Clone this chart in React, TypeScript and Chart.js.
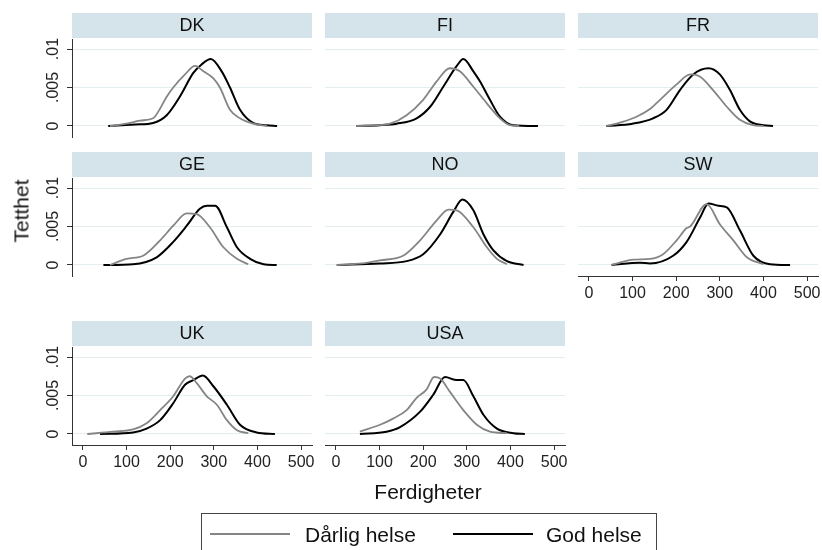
import React, { useEffect, useRef } from "react";
import { Chart, registerables } from "chart.js";

Chart.register(...registerables);

const FONT = '"Liberation Sans", Arial, Helvetica, sans-serif';

const countries = ["DK", "FI", "FR", "GE", "NO", "SW", "UK", "USA"];
const seriesNames = ["Dårlig helse", "God helse"];
const xTicks = [0, 100, 200, 300, 400, 500];
const yTicks = [0, 0.005, 0.01];
const yTickLabels = ["0", ".005", ".01"];
const xTitle = "Ferdigheter";
const yTitle = "Tetthet";

// [skill, density] pairs
const dkPoor = [[62, 0], [100, 0.0003], [131, 0.0007], [161, 0.001], [173, 0.0019], [192, 0.0038], [207, 0.005], [234, 0.0067], [257, 0.0078], [276, 0.0071], [299, 0.0062], [314, 0.005], [337, 0.0021], [360, 0.001], [390, 0.0003], [422, 0]];
const dkGood = [[58, 0], [120, 0.0002], [161, 0.0004], [192, 0.0014], [222, 0.0038], [253, 0.0069], [272, 0.008], [293, 0.0087], [318, 0.0071], [337, 0.005], [360, 0.0021], [390, 0.0004], [420, 0.0001], [445, 0]];
const fiPoor = [[47, 0], [90, 0.0001], [124, 0.0003], [162, 0.0014], [200, 0.0034], [231, 0.0058], [261, 0.0075], [284, 0.0071], [315, 0.0051], [345, 0.003], [376, 0.001], [399, 0.0001], [420, 0]];
const fiGood = [[47, 0], [100, 0.0001], [139, 0.0003], [185, 0.001], [216, 0.0025], [246, 0.0051], [277, 0.0078], [292, 0.0087], [315, 0.0071], [330, 0.0058], [353, 0.0034], [376, 0.0012], [406, 0.0001], [463, 0]];
const frPoor = [[40, 0], [75, 0.0005], [109, 0.0012], [140, 0.0022], [163, 0.0034], [201, 0.0054], [232, 0.0067], [255, 0.0064], [284, 0.0047], [316, 0.0025], [346, 0.0008], [376, 0.0001], [400, 0]];
const frGood = [[40, 0], [100, 0.0003], [147, 0.001], [178, 0.0021], [209, 0.0047], [239, 0.0067], [274, 0.0075], [300, 0.0067], [323, 0.0047], [346, 0.0021], [369, 0.0006], [400, 0.0001], [422, 0]];
const gePoor = [[62, 0], [100, 0.0008], [138, 0.0012], [177, 0.0032], [207, 0.0051], [238, 0.0067], [261, 0.0066], [291, 0.0049], [322, 0.0023], [353, 0.0008], [379, 0.0001]];
const geGood = [[47, 0], [115, 0.0001], [169, 0.001], [207, 0.003], [238, 0.0051], [268, 0.0073], [284, 0.0077], [303, 0.0077], [330, 0.0049], [353, 0.0023], [383, 0.0008], [414, 0.0001], [444, 0]];
const noPoor = [[2, 0], [60, 0.0002], [101, 0.0006], [154, 0.0012], [193, 0.0032], [231, 0.0058], [258, 0.0072], [277, 0.0071], [315, 0.0049], [346, 0.0023], [369, 0.0008], [392, 0.0001]];
const noGood = [[2, 0], [100, 0.0002], [162, 0.0005], [200, 0.0014], [239, 0.004], [269, 0.0069], [290, 0.0085], [315, 0.0071], [338, 0.004], [361, 0.0019], [392, 0.0005], [430, 0]];
const swPoor = [[52, 0], [102, 0.0007], [140, 0.0008], [170, 0.0014], [201, 0.0032], [224, 0.0048], [232, 0.005], [270, 0.0079], [300, 0.0053], [331, 0.0032], [362, 0.001], [400, 0.0001]];
const swGood = [[52, 0], [117, 0.0003], [140, 0.0002], [193, 0.0012], [224, 0.003], [255, 0.0062], [274, 0.008], [297, 0.0077], [316, 0.0075], [346, 0.0045], [377, 0.0012], [415, 0.0001], [461, 0]];
const ukPoor = [[10, 0], [70, 0.0003], [115, 0.0006], [146, 0.0014], [177, 0.0031], [207, 0.0049], [234, 0.0072], [245, 0.0075], [261, 0.0066], [284, 0.0049], [307, 0.0038], [330, 0.0018], [353, 0.0005], [379, 0.0001]];
const ukGood = [[39, 0], [115, 0.0002], [146, 0.0007], [177, 0.0018], [207, 0.004], [234, 0.0064], [253, 0.007], [275, 0.0076], [299, 0.0062], [330, 0.0038], [360, 0.0012], [398, 0.0002], [440, 0]];
const usaPoor = [[55, 0.0003], [101, 0.0012], [131, 0.002], [162, 0.0031], [185, 0.0047], [208, 0.0058], [225, 0.0074], [239, 0.0072], [261, 0.0055], [292, 0.0031], [323, 0.0012], [353, 0.0003], [392, 0.0001]];
const usaGood = [[55, 0], [116, 0.0003], [147, 0.0009], [193, 0.0029], [223, 0.0051], [250, 0.0074], [277, 0.007], [292, 0.007], [315, 0.0049], [338, 0.0025], [369, 0.0007], [407, 0.0001], [433, 0]];

const poorSeries = [dkPoor, fiPoor, frPoor, gePoor, noPoor, swPoor, ukPoor, usaPoor];
const goodSeries = [dkGood, fiGood, frGood, geGood, noGood, swGood, ukGood, usaGood];

// layout
const COL_LEFT = [72, 325, 578];
const ROW_TOP = [13, 152, 321];
const HEADER = 26;
const PLOT_W = 240;
const PLOT_H = 98;
const Y_AXIS_W = 72;
const X_AXIS_H = 35;
const RIGHT_PAD = 6;

function Panel({ idx }: { idx: number }) {
  const ref = useRef<HTMLCanvasElement>(null);
  const col = idx % 3;
  const row = Math.floor(idx / 3);
  const showY = col === 0;
  const showX = row === 2 || countries[idx] === "SW";
  const W = Y_AXIS_W + PLOT_W + RIGHT_PAD;
  const H = HEADER + PLOT_H + X_AXIS_H;

  useEffect(() => {
    const name = countries[idx];
    const headerPlugin = {
      id: "header" + idx,
      beforeDraw(chart: any) {
        const { ctx, chartArea } = chart;
        ctx.save();
        ctx.fillStyle = "#d5e4eb";
        ctx.fillRect(chartArea.left, 0, chartArea.right - chartArea.left, HEADER - 1);
        ctx.fillStyle = "#111";
        ctx.font = "18px " + FONT;
        ctx.textAlign = "center";
        ctx.textBaseline = "middle";
        ctx.fillText(name, (chartArea.left + chartArea.right) / 2, (HEADER - 1) / 2 + 1);
        ctx.restore();
      },
    };
    const yLabelPlugin = {
      id: "ylabels" + idx,
      afterDraw(chart: any) {
        if (!showY) return;
        const { ctx, chartArea } = chart;
        const ys = chart.scales.y;
        ctx.save();
        ctx.fillStyle = "#222";
        ctx.font = "16px " + FONT;
        ctx.textAlign = "center";
        ctx.textBaseline = "alphabetic";
        yTicks.forEach((v, i) => {
          const py = ys.getPixelForValue(v);
          ctx.save();
          ctx.translate(chartArea.left - 14, py);
          ctx.rotate(-Math.PI / 2);
          ctx.fillText(yTickLabels[i], 0, 0);
          ctx.restore();
        });
        ctx.restore();
      },
    };
    const chart = new Chart(ref.current as HTMLCanvasElement, {
      type: "line",
      data: {
        datasets: [
          {
            label: seriesNames[0],
            data: poorSeries[idx].map(([x, y]) => ({ x, y })),
            borderColor: "#858585",
            borderWidth: 1.8,
            pointRadius: 0,
            tension: 0.4,
            cubicInterpolationMode: "monotone",
            fill: false,
          },
          {
            label: seriesNames[1],
            data: goodSeries[idx].map(([x, y]) => ({ x, y })),
            borderColor: "#000000",
            borderWidth: 2,
            pointRadius: 0,
            tension: 0.4,
            cubicInterpolationMode: "monotone",
            fill: false,
          },
        ],
      },
      options: {
        responsive: false,
        maintainAspectRatio: false,
        animation: false,
        events: [],
        layout: { padding: { top: HEADER, right: RIGHT_PAD, left: 0, bottom: 0 } },
        plugins: {
          legend: { display: false },
          tooltip: { enabled: false },
          title: { display: false },
        },
        scales: {
          x: {
            type: "linear",
            min: -25,
            max: 525,
            afterBuildTicks: (s: any) => {
              s.ticks = xTicks.map((v) => ({ value: v }));
            },
            afterFit: (s: any) => {
              s.height = X_AXIS_H;
            },
            grid: {
              display: showX,
              drawOnChartArea: false,
              drawTicks: true,
              tickLength: 5,
              tickColor: "#333",
              lineWidth: 1,
            },
            border: { display: showX, color: "#333", width: 1 },
            ticks: {
              display: showX,
              font: { family: FONT, size: 16 },
              color: "#222",
              padding: 3,
              maxRotation: 0,
              minRotation: 0,
              autoSkip: false,
            },
          },
          y: {
            type: "linear",
            min: -0.00143,
            max: 0.0113,
            afterBuildTicks: (s: any) => {
              s.ticks = yTicks.map((v) => ({ value: v }));
            },
            afterFit: (s: any) => {
              s.width = Y_AXIS_W;
            },
            grid: {
              color: "#e4eef0",
              lineWidth: 1,
              drawTicks: showY,
              tickLength: 5,
              tickColor: "#333",
            },
            border: { display: showY, color: "#333", width: 1 },
            ticks: { display: false },
          },
        },
      } as any,
      plugins: [headerPlugin, yLabelPlugin],
    });
    return () => chart.destroy();
  }, [idx]);

  return (
    <canvas
      ref={ref}
      width={W}
      height={H}
      style={{
        position: "absolute",
        left: COL_LEFT[col] - Y_AXIS_W,
        top: ROW_TOP[row],
        width: W,
        height: H,
        display: "block",
      }}
    />
  );
}

export default function App() {
  return (
    <div
      style={{
        position: "absolute",
        left: 0,
        top: 0,
        width: 822,
        height: 550,
        background: "#ffffff",
        overflow: "hidden",
        fontFamily: FONT,
        color: "#111",
      }}
    >
      {countries.map((c, i) => (
        <Panel key={c} idx={i} />
      ))}
      <div
        style={{
          position: "absolute",
          left: 21,
          top: 211,
          transform: "translate(-50%, -50%) rotate(-90deg)",
          fontSize: 21,
          lineHeight: "21px",
          whiteSpace: "nowrap",
        }}
      >
        {yTitle}
      </div>
      <div
        style={{
          position: "absolute",
          left: 428,
          top: 491,
          transform: "translate(-50%, -50%)",
          fontSize: 21,
          lineHeight: "21px",
          whiteSpace: "nowrap",
        }}
      >
        {xTitle}
      </div>
      <div
        style={{
          position: "absolute",
          left: 201,
          top: 513,
          width: 456,
          height: 45,
          border: "1px solid #444",
          boxSizing: "border-box",
        }}
      >
        <div style={{ position: "absolute", left: 8, top: 19, width: 80, height: 2, background: "#858585" }} />
        <div
          style={{
            position: "absolute",
            left: 103,
            top: 20,
            transform: "translateY(-50%)",
            fontSize: 21,
            lineHeight: "21px",
            whiteSpace: "nowrap",
          }}
        >
          {seriesNames[0]}
        </div>
        <div style={{ position: "absolute", left: 251, top: 19, width: 80, height: 2, background: "#000" }} />
        <div
          style={{
            position: "absolute",
            left: 344,
            top: 20,
            transform: "translateY(-50%)",
            fontSize: 21,
            lineHeight: "21px",
            whiteSpace: "nowrap",
          }}
        >
          {seriesNames[1]}
        </div>
      </div>
    </div>
  );
}
